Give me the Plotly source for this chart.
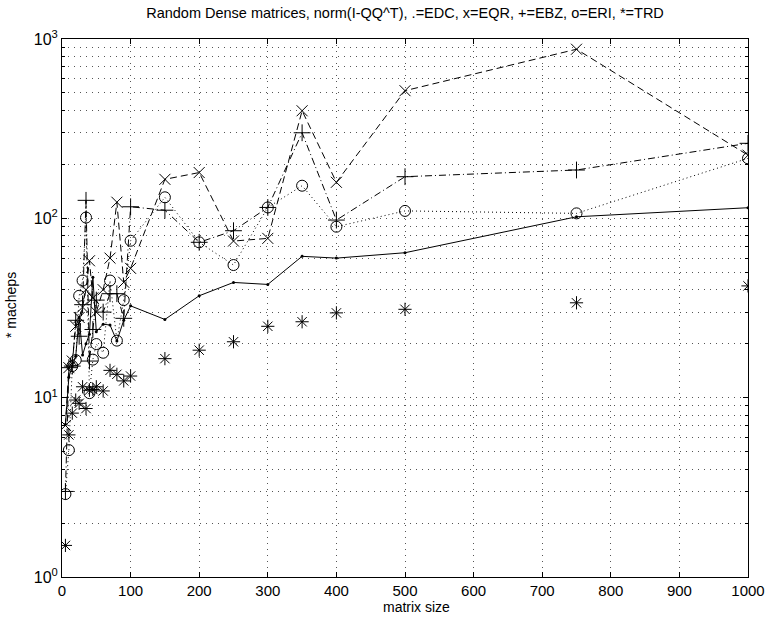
import plotly.graph_objects as go

n = [5, 10, 15, 20, 25, 30, 35, 40, 45, 50, 60, 70, 80, 90, 100,
     150, 200, 250, 300, 350, 400, 500, 750, 1000]

edc = [7.1, 13, 15, 17, 28, 17.3, 20, 22.6, 47, 23.3, 25.7, 25.4, 20.7, 27, 32.5,
       27.3, 37, 43.9, 42.8, 61.4, 60, 64.3, 102, 114.6]
eqr = [7, 14.7, 16, 25, 28, 32, 40, 58, 36, 30, 40, 60, 123, 44, 52.6,
       165, 180, 74.7, 77.3, 398, 158.8, 515, 877, 225]
ebz = [3, 14.7, 15, 27, 22, 33, 126, 16, 24, 35, 30, 38, 38, 27.7, 116,
       111, 73.5, 85.3, 115, 300, 97.8, 170.7, 186, 262]
eri = [2.9, 5.1, 15, 16.2, 37, 45, 101, 10.6, 16.3, 19.9, 17.8, 45, 20.8, 35, 75,
       131, 73.5, 54.9, 115, 152, 89.8, 110, 106.6, 216]
trd = [1.5, 6.2, 8.2, 9.7, 9.3, 11.5, 8.7, 11.0, 11.1, 11.5, 10.9, 14.2, 13.5, 12.4, 13.2,
       16.5, 18.4, 20.5, 25, 26.5, 29.7, 31.1, 33.8, 42]

title = "Random Dense matrices, norm(I-QQ^T), .=EDC, x=EQR, +=EBZ, o=ERI, *=TRD"
xlabel = "matrix size"
ylabel = "* macheps"

fig = go.Figure()
k = "black"
fig.add_trace(go.Scatter(x=n, y=edc, mode="lines+markers",
                         line=dict(color=k, width=1),
                         marker=dict(symbol="circle", size=3, color=k)))
fig.add_trace(go.Scatter(x=n, y=eqr, mode="lines+markers",
                         line=dict(color=k, width=1, dash="7px,4px"),
                         marker=dict(symbol="x-thin-open", size=11, color=k,
                                     line=dict(color=k, width=1))))
fig.add_trace(go.Scatter(x=n, y=ebz, mode="lines+markers",
                         line=dict(color=k, width=1, dash="7px,3px,1px,3px"),
                         marker=dict(symbol="cross-thin-open", size=12, color=k,
                                     line=dict(color=k, width=1))))
fig.add_trace(go.Scatter(x=n, y=eri, mode="lines+markers",
                         line=dict(color=k, width=1, dash="1px,3px"),
                         marker=dict(symbol="circle-open", size=11, color=k,
                                     line=dict(color=k, width=1))))
fig.add_trace(go.Scatter(x=n, y=trd, mode="markers",
                         marker=dict(symbol="asterisk-open", size=11, color=k,
                                     line=dict(color=k, width=1))))

ydec = [1, 10, 100, 1000]
yminor = [m * d for d in [1, 10, 100] for m in range(2, 10)]
gc = "#555"
gd = "1px,5px"

L, R, T, B = 62, 23, 39, 46
pw = 771 - L - R
ph = 623 - T - B

fig.update_layout(
    width=771, height=623,
    margin=dict(l=L, r=R, t=T, b=B, autoexpand=False),
    paper_bgcolor="white", plot_bgcolor="white",
    showlegend=False,
    font=dict(family="Liberation Sans, Arial, sans-serif", size=15, color="black"),
    title=dict(text=title, x=405 / 771, xanchor="center",
               y=0.988, yanchor="top", font=dict(size=14.5)),
    xaxis=dict(range=[0, 1000], dtick=100, tick0=0, ticks="inside", ticklen=5,
               tickcolor=k, showline=True, linecolor=k, linewidth=1, mirror="ticks",
               showgrid=True, gridcolor=gc, griddash=gd, gridwidth=1,
               zeroline=False, tickfont=dict(size=15), automargin=False),
    yaxis=dict(type="log", range=[0, 3], tickmode="array", tickvals=ydec,
               ticktext=["10<sup>0</sup>", "10<sup>1</sup>", "10<sup>2</sup>", "10<sup>3</sup>"],
               ticks="inside", ticklen=5, tickcolor=k, tickfont=dict(size=16),
               showline=True, linecolor=k, linewidth=1, mirror="ticks",
               showgrid=True, gridcolor=gc, griddash=gd, gridwidth=1,
               zeroline=False, automargin=False,
               minor=dict(tickmode="array", tickvals=yminor, ticks="inside", ticklen=3,
                          tickcolor=k, showgrid=True, gridcolor=gc, griddash=gd,
                          gridwidth=1)),
    annotations=[
        dict(text=xlabel, xref="paper", yref="paper", x=(416 - L) / pw,
             y=-(607 - (623 - B)) / ph, xanchor="center", yanchor="middle",
             showarrow=False, font=dict(size=14)),
        dict(text=ylabel, xref="paper", yref="paper", x=(11 - L) / pw,
             y=(623 - B - 305) / ph, xanchor="center", yanchor="middle",
             showarrow=False, textangle=-90, font=dict(size=14)),
    ],
)

fig.write_html("out.html")
